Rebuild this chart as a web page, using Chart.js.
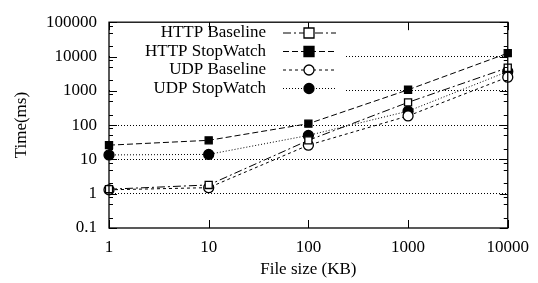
<!DOCTYPE html>
<html>
<head>
<meta charset="utf-8">
<script src="https://cdn.jsdelivr.net/npm/chart.js@4/dist/chart.umd.min.js"></script>
<style>
  body { margin: 0; background: #fff; }
</style>
</head>
<body>
<canvas id="myChart" width="538" height="283"></canvas>
<script>
// file sizes (KB)
let sizes = [1, 10, 100, 1000, 10000];
let yTicks = [0.1, 1, 10, 100, 1000, 10000, 100000];

let httpBaseline  = [1.35, 1.8, 36, 460, 4700];
let httpStopWatch = [26, 36, 110, 1070, 12500];
let udpBaseline   = [1.3, 1.5, 26, 185, 2500];
let udpStopWatch  = [13.5, 14, 50, 255, 3650];

let labels = ['HTTP Baseline', 'HTTP StopWatch', 'UDP Baseline', 'UDP StopWatch'];

const serif = "'Liberation Serif', 'DejaVu Serif', serif";
const fsize = 17;

function pts(vals) {
  return vals.map((v, i) => ({ x: sizes[i], y: v }));
}

// frame, inside ticks and the key
const framePlugin = {
  id: 'frame',
  beforeDatasetsDraw(chart) {
    // white box behind the key hides the grid lines
    const a = chart.chartArea;
    const ctx = chart.ctx;
    ctx.save();
    ctx.fillStyle = '#fff';
    ctx.fillRect(a.left + 1, a.top + 1, 236, 82);
    ctx.restore();
  },
  afterDraw(chart) {
    const ctx = chart.ctx;
    const a = chart.chartArea;
    const xs = chart.scales.x, ys = chart.scales.y;
    ctx.save();
    ctx.strokeStyle = '#000';
    ctx.lineWidth = 1.3;
    ctx.setLineDash([]);
    ctx.strokeRect(a.left, a.top, a.right - a.left, a.bottom - a.top);

    ctx.lineWidth = 1;
    ctx.beginPath();
    // y ticks, left and right
    yTicks.forEach(v => {
      const y = Math.round(ys.getPixelForValue(v)) + 0.5;
      ctx.moveTo(a.left, y); ctx.lineTo(a.left + 8, y);
      ctx.moveTo(a.right, y); ctx.lineTo(a.right - 8, y);
      if (v < 100000) {
        [2, 5, 8].forEach(m => {
          const ym = Math.round(ys.getPixelForValue(v * m)) + 0.5;
          ctx.moveTo(a.left, ym); ctx.lineTo(a.left + 4, ym);
          ctx.moveTo(a.right, ym); ctx.lineTo(a.right - 4, ym);
        });
      }
    });
    // x ticks, bottom and top
    sizes.forEach(v => {
      const x = Math.round(xs.getPixelForValue(v)) + 0.5;
      ctx.moveTo(x, a.bottom); ctx.lineTo(x, a.bottom - 8);
      ctx.moveTo(x, a.top); ctx.lineTo(x, a.top + 8);
    });
    ctx.stroke();

    // key
    ctx.font = fsize + 'px ' + serif;
    ctx.fillStyle = '#000';
    ctx.textAlign = 'right';
    ctx.textBaseline = 'middle';
    chart.data.datasets.forEach((ds, i) => {
      const y = 33 + i * 18.5;
      ctx.fillText(ds.label, 266, y);
      ctx.beginPath();
      ctx.setLineDash(ds.borderDash);
      ctx.lineWidth = 1;
      ctx.moveTo(283, y); ctx.lineTo(336, y);
      ctx.stroke();
      ctx.setLineDash([]);
      const r = 5;
      ctx.beginPath();
      if (ds.pointStyle === 'rect') {
        ctx.rect(309 - r, y - r, 2 * r, 2 * r);
      } else {
        ctx.arc(309, y, r, 0, Math.PI * 2);
      }
      ctx.fillStyle = ds.pointBackgroundColor;
      ctx.fill();
      ctx.lineWidth = 1.3;
      ctx.stroke();
      ctx.fillStyle = '#000';
    });
    ctx.restore();
  }
};

function series(i, vals, dash, style, fill) {
  return {
    label: labels[i],
    data: pts(vals),
    clip: false,
    borderColor: '#000',
    borderWidth: 1,
    borderDash: dash,
    pointStyle: style,
    pointRadius: 5,
    pointBackgroundColor: fill,
    pointBorderColor: '#000',
    pointBorderWidth: 1.3
  };
}

let mychart = new Chart(document.getElementById('myChart'), {
  type: 'line',
  data: {
    datasets: [
      series(0, httpBaseline, [8, 3, 2, 3], 'rect', '#fff'),
      series(1, httpStopWatch, [6, 3], 'rect', '#000'),
      series(2, udpBaseline, [3, 3], 'circle', '#fff'),
      series(3, udpStopWatch, [1, 2], 'circle', '#000')
    ]
  },
  options: {
    responsive: false,
    animation: false,
    devicePixelRatio: 1,
    layout: { padding: { left: 0, right: 23, top: 15, bottom: 0 } },
    plugins: {
      legend: { display: false },
      tooltip: { enabled: false }
    },
    scales: {
      x: {
        type: 'logarithmic',
        min: 1,
        max: 10000,
        afterBuildTicks(scale) {
          scale.ticks = sizes.map(v => ({ value: v }));
        },
        afterFit(scale) { scale.height = 55; },
        grid: { display: false, drawTicks: false },
        border: { display: false },
        ticks: {
          color: '#000',
          font: { family: serif, size: fsize },
          padding: 9,
          maxRotation: 0,
          autoSkip: false,
          callback: v => String(v)
        },
        title: {
          display: true,
          text: 'File size (KB)',
          color: '#000',
          font: { family: serif, size: fsize },
          padding: { top: 0, bottom: 3 }
        }
      },
      y: {
        type: 'logarithmic',
        min: 0.1,
        max: 100000,
        afterBuildTicks(scale) {
          scale.ticks = yTicks.map(v => ({ value: v }));
        },
        afterFit(scale) { scale.width = 109; },
        grid: {
          color: ctx => (ctx.tick && (ctx.tick.value === 0.1 || ctx.tick.value === 100000)) ? 'rgba(0,0,0,0)' : '#000',
          lineWidth: 1,
          drawTicks: false
        },
        border: { display: false, dash: [1, 2] },
        ticks: {
          color: '#000',
          font: { family: serif, size: fsize },
          padding: 12,
          autoSkip: false,
          callback: v => String(v)
        },
        title: {
          display: true,
          text: 'Time(ms)',
          color: '#000',
          font: { family: serif, size: fsize },
          padding: { top: 11, bottom: 0 }
        }
      }
    }
  },
  plugins: [framePlugin]
});
</script>
</body>
</html>
